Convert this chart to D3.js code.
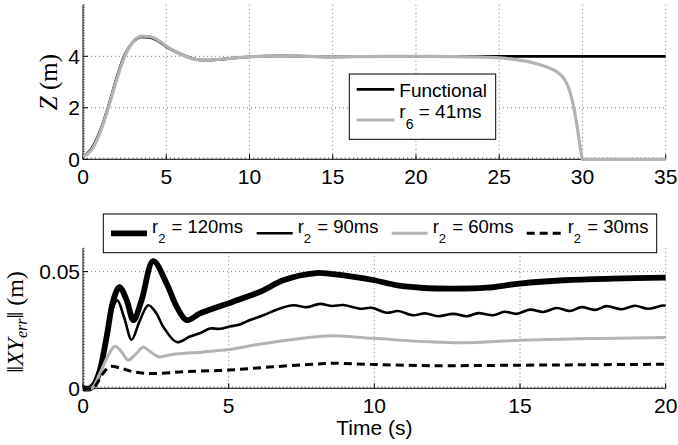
<!DOCTYPE html>
<html>
<head>
<meta charset="utf-8">
<script src="https://cdn.jsdelivr.net/npm/d3@7"></script>
<style>
  body { margin: 0; background: #fff; }
  text { font-family: "Liberation Sans", Arial, sans-serif; fill: #000; }
</style>
</head>
<body>
<div id="chart-container"></div>
<script>
const width = 678;
const height = 445;

// ---- top panel: Z (m) vs time (s)
const funcTime = [0, 0.5, 1, 1.5, 2, 2.5, 3, 3.5, 4, 4.5, 5, 5.5, 6, 6.5, 7, 7.5, 8, 9, 10, 11, 12, 13, 14, 15, 17, 20, 35];
const funcZ    = [0.1, 0.4, 1.05, 2.0, 3.1, 4.05, 4.55, 4.76, 4.74, 4.6, 4.38, 4.2, 4.05, 3.93, 3.86, 3.85, 3.87, 3.93, 3.98, 4.01, 4.02, 4.01, 3.99, 3.98, 3.99, 4.0, 4.0];
const r6Time = [0, 0.5, 1, 1.5, 2, 2.5, 3, 3.5, 4, 4.5, 5, 5.5, 6, 6.5, 7, 7.5, 8, 9, 10, 11, 12, 13, 14, 15, 17, 20, 22, 23.5, 24.5, 25, 25.5, 26, 26.5, 27, 27.5, 28, 28.5, 28.9, 29.2, 29.45, 29.65, 29.8, 29.92, 30, 35];
const r6Z    = [0.1, 0.35, 1.0, 1.95, 3.05, 4.0, 4.55, 4.78, 4.77, 4.63, 4.4, 4.2, 4.04, 3.92, 3.86, 3.85, 3.87, 3.93, 3.98, 4.01, 4.02, 4.01, 3.99, 3.98, 3.99, 4.0, 3.99, 3.98, 3.96, 3.94, 3.91, 3.87, 3.82, 3.75, 3.66, 3.55, 3.38, 3.12, 2.72, 2.1, 1.4, 0.75, 0.25, 0, 0];
const topXTicks = [0, 5, 10, 15, 20, 25, 30, 35];
const topYTicks = [0, 2, 4];
const topLegend = ["Functional", "41ms"];

// ---- bottom panel: ||XY_err|| (m) vs time (s)
const t120 = [0, 0.24, 0.4, 0.58, 0.81, 1.04, 1.25, 1.5, 1.73, 2.01, 2.41, 2.87, 3.22, 3.56, 4.0, 4.47, 5.04, 5.62, 6.19, 6.87, 8.0, 8.5, 9.3, 10.0, 10.8, 11.6, 12.7, 13.85, 15.0, 16.5, 18.2, 20];
const e120 = [0, 0, 0.002, 0.0078, 0.022, 0.0377, 0.0434, 0.0377, 0.0292, 0.0377, 0.0545, 0.0449, 0.0349, 0.0292, 0.032, 0.0342, 0.0366, 0.0392, 0.042, 0.0463, 0.0494, 0.049, 0.0478, 0.0463, 0.0441, 0.0431, 0.0427, 0.0431, 0.0449, 0.0463, 0.047, 0.0474];
const t90 = [0, 0.26, 0.45, 0.62, 0.83, 1.0, 1.18, 1.42, 1.67, 1.95, 2.24, 2.5, 2.76, 3.22, 3.67, 4.05, 4.36, 4.7, 5.04, 5.35, 5.62, 6.19, 6.76, 7.22, 7.68, 8.13, 8.55, 8.93, 9.51, 9.91, 10.42, 10.82, 11.34, 11.74, 12.19, 12.71, 13.17, 13.57, 14.08, 14.47, 14.88, 15.34, 15.8, 16.26, 16.71, 17.11, 17.57, 17.97, 18.49, 18.94, 19.4, 19.91, 20];
const e90 = [0, 0, 0.003, 0.0095, 0.022, 0.0335, 0.0377, 0.03, 0.0208, 0.029, 0.0356, 0.0325, 0.0263, 0.0198, 0.0222, 0.0238, 0.0256, 0.0255, 0.0265, 0.0272, 0.0287, 0.0313, 0.0342, 0.0356, 0.0348, 0.0362, 0.0353, 0.0357, 0.0341, 0.0345, 0.0324, 0.0331, 0.0313, 0.0321, 0.0309, 0.0319, 0.0309, 0.0322, 0.0313, 0.0328, 0.0319, 0.0337, 0.0327, 0.0344, 0.0331, 0.0348, 0.0336, 0.0352, 0.0339, 0.0354, 0.0341, 0.0355, 0.0354];
const t60 = [0, 0.3, 0.58, 0.87, 1.1, 1.33, 1.55, 1.8, 2.07, 2.3, 2.6, 3.05, 4.15, 5.0, 6.0, 7.0, 8.0, 8.5, 9.96, 11.9, 13.05, 15.0, 17.0, 20];
const e60 = [0, 0, 0.0064, 0.0142, 0.018, 0.0155, 0.0121, 0.0145, 0.0176, 0.0158, 0.0135, 0.0145, 0.0156, 0.0166, 0.0188, 0.0206, 0.0221, 0.0225, 0.0214, 0.0199, 0.0195, 0.0206, 0.0212, 0.0218];
const t30 = [0, 0.35, 0.5, 0.69, 0.93, 1.27, 1.72, 2.41, 3.56, 5.0, 6.5, 8.0, 8.6, 10, 11.9, 15, 17.5, 20];
const e30 = [0, 0, 0.0025, 0.0064, 0.0093, 0.0087, 0.0071, 0.0063, 0.0072, 0.0078, 0.0092, 0.0104, 0.0107, 0.0102, 0.0097, 0.0099, 0.0101, 0.0103];
const botXTicks = [0, 5, 10, 15, 20];
const botYTicks = [0, 0.05];
const botLegend = ["120ms", "90ms", "60ms", "30ms"];

const svg = d3.select("#chart-container")
    .append("svg")
    .attr("width", width)
    .attr("height", height);

const gridColor = "#555";
const lightGray = "#b3b3b3";
const tickFont = 21;

// draws grid, axes and ticks for one panel, returns scales
function drawFrame(o) {
    const x = d3.scaleLinear().domain(o.xDomain).range([o.left, o.right]);
    const y = d3.scaleLinear().domain(o.yDomain).range([o.bottom, o.top]);
    const g = svg.append("g");

    // dotted grid
    g.selectAll(".vgrid").data(o.xTicks.filter(d => d > o.xDomain[0]))
      .enter().append("line")
        .attr("x1", d => x(d)).attr("x2", d => x(d))
        .attr("y1", o.top).attr("y2", o.bottom)
        .attr("stroke", gridColor).attr("stroke-width", 0.8)
        .attr("stroke-dasharray", "1,3");
    g.selectAll(".hgrid").data(o.yTicks.filter(d => d > o.yDomain[0]))
      .enter().append("line")
        .attr("x1", o.left).attr("x2", o.right)
        .attr("y1", d => y(d)).attr("y2", d => y(d))
        .attr("stroke", gridColor).attr("stroke-width", 0.8)
        .attr("stroke-dasharray", "1,3");

    // minor ticks
    g.selectAll(".xminor").data(d3.range(o.xDomain[0], o.xDomain[1] + 1e-9, o.xMinor))
      .enter().append("line")
        .attr("x1", d => x(d)).attr("x2", d => x(d))
        .attr("y1", o.bottom).attr("y2", o.bottom - 2)
        .attr("stroke", "#333").attr("stroke-width", 0.6);
    g.selectAll(".yminor").data(d3.range(o.yDomain[0], o.yDomain[1] + 1e-9, o.yMinor))
      .enter().append("line")
        .attr("x1", o.left).attr("x2", o.left + 2)
        .attr("y1", d => y(d)).attr("y2", d => y(d))
        .attr("stroke", "#333").attr("stroke-width", 0.6);

    // major ticks
    g.selectAll(".xmajor").data(o.xTicks)
      .enter().append("line")
        .attr("x1", d => x(d)).attr("x2", d => x(d))
        .attr("y1", o.bottom).attr("y2", o.bottom - 5)
        .attr("stroke", "#000").attr("stroke-width", 1);
    g.selectAll(".ymajor").data(o.yTicks)
      .enter().append("line")
        .attr("x1", o.left).attr("x2", o.left + 5)
        .attr("y1", d => y(d)).attr("y2", d => y(d))
        .attr("stroke", "#000").attr("stroke-width", 1);

    // axis lines
    g.append("line").attr("x1", o.left).attr("x2", o.right)
        .attr("y1", o.bottom).attr("y2", o.bottom).attr("stroke", "#000");
    g.append("line").attr("x1", o.left).attr("x2", o.left)
        .attr("y1", o.top).attr("y2", o.bottom).attr("stroke", "#000");

    // tick labels
    g.selectAll(".xlab").data(o.xTicks)
      .enter().append("text")
        .attr("x", d => x(d)).attr("y", o.bottom + 24.5)
        .attr("text-anchor", "middle").attr("font-size", tickFont)
        .text(d => d);
    g.selectAll(".ylab").data(o.yTicks)
      .enter().append("text")
        .attr("x", o.left - 3).attr("y", d => y(d)).attr("dy", "0.36em")
        .attr("text-anchor", "end").attr("font-size", tickFont)
        .text(d => d);

    return {x, y, g};
}

function drawLine(panel, xs, ys, color, w, dash, curve) {
    const pts = xs.map((t, i) => [t, ys[i]]);
    const line = d3.line()
        .x(d => panel.x(d[0]))
        .y(d => panel.y(d[1]))
        .curve(curve || d3.curveMonotoneX);
    panel.g.append("path")
        .attr("d", line(pts))
        .attr("fill", "none")
        .attr("stroke", color)
        .attr("stroke-width", w)
        .attr("stroke-linejoin", "round")
        .attr("stroke-dasharray", dash || null);
}

// ================= top panel
const topPanel = drawFrame({
    xDomain: [0, 35], yDomain: [0, 6],
    left: 83, right: 665.7, top: 4.8, bottom: 159.3,
    xTicks: topXTicks, yTicks: topYTicks,
    xMinor: 0.25, yMinor: 0.1
});
drawLine(topPanel, funcTime, funcZ, "#000", 2.8);
drawLine(topPanel, r6Time, r6Z, lightGray, 3.2);

topPanel.g.append("text")
    .attr("transform", `translate(57,${(4.8 + 159.3) / 2}) rotate(-90)`)
    .attr("text-anchor", "middle")
    .style("font-family", "'Liberation Serif', 'DejaVu Serif', serif")
    .attr("font-size", 25)
    .call(t => {
        t.append("tspan").attr("font-style", "italic").text("Z");
        t.append("tspan").text(" (m)");
    });

// top legend
const tl = topPanel.g.append("g");
tl.append("rect")
    .attr("x", 349.3).attr("y", 74).attr("width", 146.4).attr("height", 65.3)
    .attr("fill", "#fff").attr("stroke", "#000").attr("stroke-width", 1);
tl.append("line").attr("x1", 356.7).attr("x2", 394.3).attr("y1", 89.3).attr("y2", 89.3)
    .attr("stroke", "#000").attr("stroke-width", 2.8);
tl.append("text").attr("x", 399.3).attr("y", 96.5).attr("font-size", 19).text(topLegend[0]);
tl.append("line").attr("x1", 356.7).attr("x2", 394.3).attr("y1", 120).attr("y2", 120)
    .attr("stroke", lightGray).attr("stroke-width", 3.2);
tl.append("text").attr("x", 399.3).attr("y", 118.3).attr("font-size", 19)
    .call(t => {
        t.append("tspan").text("r");
        t.append("tspan").attr("dy", 11).attr("font-size", 14).text("6");
        t.append("tspan").attr("dy", -11).text(" = " + topLegend[1]);
    });

// ================= bottom panel
const botPanel = drawFrame({
    xDomain: [0, 20], yDomain: [0, 0.06],
    left: 83, right: 665.7, top: 248.3, bottom: 388.3,
    xTicks: botXTicks, yTicks: botYTicks,
    xMinor: 0.125, yMinor: 0.00125
});
const botStyles = [
    {t: t120, e: e120, color: "#000", w: 5.8, dash: null},
    {t: t90, e: e90, color: "#000", w: 2.6, dash: null},
    {t: t60, e: e60, color: lightGray, w: 3, dash: null},
    {t: t30, e: e30, color: "#000", w: 3, dash: "8,5"}
];
botStyles.forEach(s => drawLine(botPanel, s.t, s.e, s.color, s.w, s.dash, d3.curveCatmullRom.alpha(0.5)));

botPanel.g.append("text")
    .attr("x", (83 + 665.7) / 2).attr("y", 435)
    .attr("text-anchor", "middle").attr("font-size", tickFont)
    .text("Time (s)");

botPanel.g.append("text")
    .attr("transform", `translate(23,322) rotate(-90)`)
    .attr("text-anchor", "middle")
    .style("font-family", "'Liberation Serif', 'DejaVu Serif', serif")
    .attr("font-size", 24)
    .call(t => {
        t.append("tspan").text("\u2016");
        t.append("tspan").attr("font-style", "italic").text("XY");
        t.append("tspan").attr("font-style", "italic").attr("font-size", 16).attr("dy", 4).text("err");
        t.append("tspan").attr("dy", -4).text("\u2016 (m)");
    });

// bottom legend, item start positions follow the reference layout
const blStarts = [111, 256.7, 391.7, 526.7];
const bl = botPanel.g.append("g");
bl.append("rect")
    .attr("x", 103.3).attr("y", 214).attr("width", 553.4).attr("height", 38.7)
    .attr("fill", "#fff").attr("stroke", "#000").attr("stroke-width", 1);
const ly = 233.3;
botLegend.forEach((lab, i) => {
    const s = botStyles[i];
    const cx = blStarts[i];
    bl.append("line").attr("x1", cx).attr("x2", cx + 36).attr("y1", ly).attr("y2", ly)
        .attr("stroke", s.color).attr("stroke-width", s.w)
        .attr("stroke-dasharray", s.dash);
    const txt = bl.append("text").attr("x", cx + 41).attr("y", ly).attr("font-size", 18.5);
    txt.append("tspan").text("r");
    txt.append("tspan").attr("dy", 10).attr("font-size", 13).text("2");
    txt.append("tspan").attr("dy", -10).attr("dx", 1).text(" = " + lab);
});
</script>
</body>
</html>
